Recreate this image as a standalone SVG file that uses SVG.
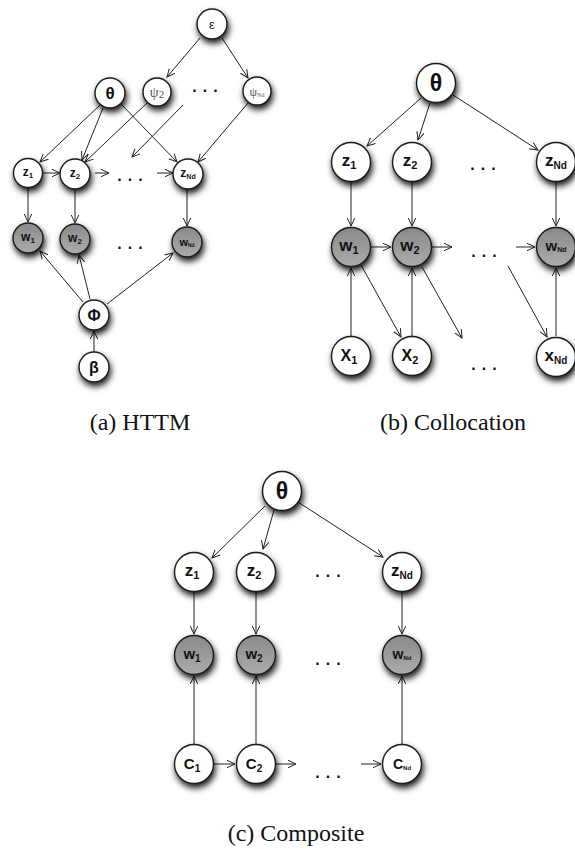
<svg xmlns="http://www.w3.org/2000/svg" width="575" height="852" viewBox="0 0 575 852">
<defs>
<filter id="sh" x="-60%" y="-60%" width="220%" height="220%">
<feDropShadow dx="1.5" dy="4" stdDeviation="3" flood-color="#000" flood-opacity="0.9"/>
</filter>
<linearGradient id="gray" x1="0" y1="0" x2="0" y2="1">
<stop offset="0" stop-color="#898989"/>
<stop offset="1" stop-color="#acacac"/>
</linearGradient>
<marker id="ah" viewBox="0 0 10 10" refX="9" refY="5" markerWidth="9" markerHeight="9" markerUnits="userSpaceOnUse" orient="auto">
<path d="M0,0.8 L9,5 L0,9.2" fill="none" stroke="#222" stroke-width="1.1"/>
</marker>
<style>
.n{fill:#fff;stroke:#1a1a1a;stroke-width:1.4;filter:url(#sh)}
.g{fill:url(#gray);stroke:#1a1a1a;stroke-width:1.4;filter:url(#sh)}
.c line{stroke:#222;stroke-width:1;marker-end:url(#ah)}
.l{font-family:"Liberation Sans",Arial,sans-serif;font-weight:bold;text-anchor:middle;fill:#111}
.la{font-size:12px}
.lb{font-size:17px}
.ps{font-family:"Liberation Serif","DejaVu Serif",serif;font-size:14px;text-anchor:middle;fill:#555}
.dots{font-family:"Liberation Sans",Arial,sans-serif;font-weight:bold;font-size:16px;letter-spacing:6px;text-anchor:middle;fill:#111}
.cap{font-family:"Liberation Serif","Times New Roman",serif;font-size:24px;text-anchor:middle;fill:#111}
</style>
</defs>
<rect width="575" height="852" fill="#fff"/>

<g id="connectors" class="c">
<line x1="200" y1="38" x2="167" y2="77"/>
<line x1="222" y1="38" x2="248" y2="78"/>
<line x1="100" y1="105" x2="40" y2="162"/>
<line x1="103" y1="108" x2="82" y2="160"/>
<line x1="121" y1="104" x2="177" y2="162"/>
<line x1="147" y1="103" x2="85" y2="162"/>
<line x1="183" y1="105" x2="132" y2="157"/>
<line x1="248" y1="103" x2="198" y2="162"/>
<line x1="43" y1="173" x2="60" y2="173"/>
<line x1="95" y1="173" x2="109" y2="173"/>
<line x1="157" y1="173" x2="173" y2="173"/>
<line x1="28" y1="188" x2="28" y2="222"/>
<line x1="75" y1="189" x2="75" y2="223"/>
<line x1="187" y1="189" x2="187" y2="226"/>
<line x1="83" y1="302" x2="40" y2="251"/>
<line x1="90" y1="299" x2="79" y2="255"/>
<line x1="107" y1="304" x2="173" y2="253"/>
<line x1="94" y1="352" x2="94" y2="331"/>
<line x1="421" y1="98" x2="367" y2="146"/>
<line x1="430" y1="103" x2="418" y2="140"/>
<line x1="453" y1="95" x2="538" y2="150"/>
<line x1="351" y1="182" x2="351" y2="226"/>
<line x1="412" y1="182" x2="412" y2="226"/>
<line x1="556" y1="182" x2="556" y2="226"/>
<line x1="371" y1="247" x2="391" y2="247"/>
<line x1="432" y1="247" x2="452" y2="247"/>
<line x1="516" y1="247" x2="535" y2="247"/>
<line x1="361" y1="265" x2="401" y2="337"/>
<line x1="422" y1="267" x2="462" y2="338"/>
<line x1="508" y1="266" x2="547" y2="337"/>
<line x1="351" y1="336" x2="351" y2="268"/>
<line x1="412" y1="336" x2="412" y2="268"/>
<line x1="556" y1="336" x2="556" y2="268"/>
<line x1="265" y1="506" x2="212" y2="558"/>
<line x1="274" y1="510" x2="263" y2="549"/>
<line x1="298" y1="502" x2="383" y2="557"/>
<line x1="194" y1="592" x2="194" y2="634"/>
<line x1="256" y1="592" x2="256" y2="634"/>
<line x1="402" y1="592" x2="402" y2="634"/>
<line x1="194" y1="744" x2="194" y2="676"/>
<line x1="256" y1="744" x2="256" y2="676"/>
<line x1="402" y1="744" x2="402" y2="676"/>
<line x1="214" y1="764" x2="235" y2="764"/>
<line x1="276" y1="764" x2="296" y2="764"/>
<line x1="361" y1="764" x2="381" y2="764"/>
</g>

<g id="a-eps"><circle class="n" cx="212" cy="24" r="15"/><text x="212" y="29" style="font-family:'Liberation Sans',Arial,sans-serif;font-size:13px;text-anchor:middle;fill:#222">ε</text></g>
<g id="a-theta"><circle class="n" cx="110" cy="93" r="15"/><text class="l" x="110" y="99" style="font-size:17px">θ</text></g>
<g id="a-psi2"><circle class="n" cx="157" cy="92" r="14"/><text class="ps" x="157" y="97">ψ<tspan font-size="11" dy="1">2</tspan></text></g>
<g id="a-psiNd"><circle class="n" cx="257" cy="91" r="14"/><text class="ps" x="257" y="96" style="font-size:12px">ψ<tspan font-size="6" dy="1">Nd</tspan></text></g>
<g id="a-z1"><circle class="n" cx="28" cy="173" r="14.5"/><text class="l la" x="28" y="176">z<tspan font-size="8" dy="2">1</tspan></text></g>
<g id="a-z2"><circle class="n" cx="75" cy="174" r="15"/><text class="l la" x="75" y="177">z<tspan font-size="8" dy="2">2</tspan></text></g>
<g id="a-zNd"><circle class="n" cx="188" cy="174" r="15"/><text class="l la" x="188" y="177">z<tspan font-size="7" dy="2">Nd</tspan></text></g>
<g id="a-w1"><circle class="g" cx="28" cy="238" r="15"/><text class="l la" x="28" y="241">w<tspan font-size="8" dy="2">1</tspan></text></g>
<g id="a-w2"><circle class="g" cx="75" cy="239" r="15"/><text class="l la" x="75" y="242">w<tspan font-size="8" dy="2">2</tspan></text></g>
<g id="a-wNd"><circle class="g" cx="187" cy="242" r="15"/><text class="l" x="187" y="246" style="font-size:11px">w<tspan font-size="5" dy="1">Nd</tspan></text></g>
<g id="a-phi"><circle class="n" cx="94" cy="315" r="15"/><text class="l" x="94" y="321" style="font-size:16px">Φ</text></g>
<g id="a-beta"><circle class="n" cx="94" cy="367" r="15"/><text class="l" x="94" y="373" style="font-size:16px">β</text></g>
<text class="dots" x="208" y="92">...</text>
<text class="dots" x="133" y="181">...</text>
<text class="dots" x="133" y="249">...</text>

<g id="b-theta"><circle class="n" cx="436" cy="83" r="19.5"/><text class="l" x="436" y="91" style="font-size:23px">θ</text></g>
<g id="b-z1"><circle class="n" cx="351" cy="162" r="19.5"/><text class="l lb" x="349" y="166">z<tspan font-size="11" dy="3">1</tspan></text></g>
<g id="b-z2"><circle class="n" cx="412" cy="162" r="19.5"/><text class="l lb" x="410" y="166">z<tspan font-size="11" dy="3">2</tspan></text></g>
<g id="b-zNd"><circle class="n" cx="556" cy="162" r="19.5"/><text class="l lb" x="556" y="166">z<tspan font-size="10" dy="3">Nd</tspan></text></g>
<g id="b-w1"><circle class="g" cx="351" cy="247" r="19.5"/><text class="l lb" x="349" y="251">w<tspan font-size="11" dy="3">1</tspan></text></g>
<g id="b-w2"><circle class="g" cx="412" cy="247" r="19.5"/><text class="l lb" x="410" y="251">w<tspan font-size="11" dy="3">2</tspan></text></g>
<g id="b-wNd"><circle class="g" cx="556" cy="247" r="19.5"/><text class="l" x="556" y="251" style="font-size:15px">w<tspan font-size="7" dy="1">Nd</tspan></text></g>
<g id="b-x1"><circle class="n" cx="351" cy="356" r="19.5"/><text class="l" x="349" y="361" style="font-size:16px">X<tspan font-size="11" dy="3">1</tspan></text></g>
<g id="b-x2"><circle class="n" cx="412" cy="356" r="19.5"/><text class="l" x="410" y="361" style="font-size:16px">X<tspan font-size="11" dy="3">2</tspan></text></g>
<g id="b-xNd"><circle class="n" cx="556" cy="357" r="19.5"/><text class="l lb" x="556" y="361">x<tspan font-size="10" dy="3">Nd</tspan></text></g>
<text class="dots" x="486" y="170">...</text>
<text class="dots" x="487" y="257">...</text>
<text class="dots" x="487" y="370">...</text>

<g id="c-theta"><circle class="n" cx="282" cy="491" r="19.5"/><text class="l" x="282" y="499" style="font-size:23px">θ</text></g>
<g id="c-z1"><circle class="n" cx="194" cy="572" r="19.5"/><text class="l lb" x="192" y="576">z<tspan font-size="11" dy="3">1</tspan></text></g>
<g id="c-z2"><circle class="n" cx="256" cy="572" r="19.5"/><text class="l lb" x="254" y="576">z<tspan font-size="11" dy="3">2</tspan></text></g>
<g id="c-zNd"><circle class="n" cx="402" cy="572" r="19.5"/><text class="l lb" x="402" y="576">z<tspan font-size="10" dy="3">Nd</tspan></text></g>
<g id="c-w1"><circle class="g" cx="194" cy="655" r="19.5"/><text class="l" x="192" y="659" style="font-size:15px">w<tspan font-size="10" dy="3">1</tspan></text></g>
<g id="c-w2"><circle class="g" cx="256" cy="655" r="19.5"/><text class="l" x="254" y="659" style="font-size:15px">w<tspan font-size="10" dy="3">2</tspan></text></g>
<g id="c-wNd"><circle class="g" cx="402" cy="655" r="19.5"/><text class="l" x="402" y="659" style="font-size:14px">w<tspan font-size="6" dy="1">Nd</tspan></text></g>
<g id="c-c1"><circle class="n" cx="194" cy="764" r="19.5"/><text class="l" x="192" y="769" style="font-size:15px">C<tspan font-size="10" dy="3">1</tspan></text></g>
<g id="c-c2"><circle class="n" cx="256" cy="764" r="19.5"/><text class="l" x="254" y="769" style="font-size:15px">C<tspan font-size="10" dy="3">2</tspan></text></g>
<g id="c-cNd"><circle class="n" cx="402" cy="764" r="19.5"/><text class="l" x="402" y="769" style="font-size:14px">C<tspan font-size="6" dy="1">Nd</tspan></text></g>
<text class="dots" x="331" y="577">...</text>
<text class="dots" x="331" y="665">...</text>
<text class="dots" x="331" y="778">...</text>

<text class="cap" x="140" y="430">(a)  HTTM</text>
<text class="cap" x="453" y="430">(b)  Collocation</text>
<text class="cap" x="296" y="841">(c)  Composite</text>
</svg>
